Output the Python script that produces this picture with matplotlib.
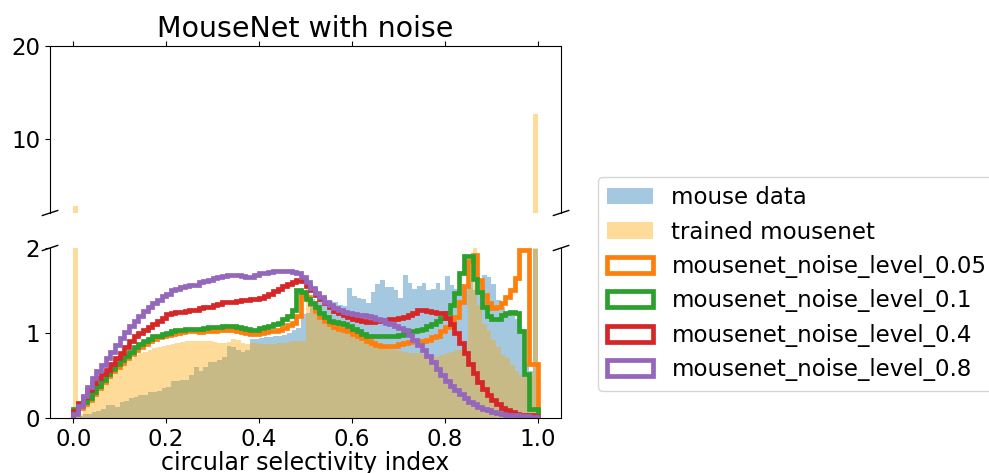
import numpy as np
import matplotlib
matplotlib.use('Agg')
import matplotlib.pyplot as plt

plt.rcParams['font.size'] = 16.5

# 100 bins over [0, 1], density values
edges = np.linspace(0, 1, 101)
centers = (edges[:-1] + edges[1:]) / 2

mouse_data = [
    0.02, 0.02, 0.05, 0.05, 0.07, 0.08, 0.11, 0.15, 0.15, 0.13,
    0.19, 0.20, 0.23, 0.25, 0.27, 0.27, 0.31, 0.31, 0.32, 0.35,
    0.37, 0.43, 0.43, 0.45, 0.45, 0.50, 0.60, 0.55, 0.60, 0.66,
    0.66, 0.68, 0.72, 0.85, 0.84, 0.80, 0.78, 0.80, 0.93, 0.93,
    0.94, 0.95, 0.95, 0.96, 0.96, 0.98, 1.00, 1.03, 1.06, 1.22,
    1.23, 1.40, 1.38, 1.37, 1.36, 1.38, 1.36, 1.33, 1.32, 1.53,
    1.43, 1.41, 1.40, 1.35, 1.48, 1.58, 1.62, 1.54, 1.54, 1.50,
    1.41, 1.68, 1.59, 1.52, 1.55, 1.59, 1.50, 1.52, 1.59, 1.51,
    1.67, 1.56, 1.52, 1.58, 1.55, 1.60, 1.50, 1.60, 1.68, 1.66,
    1.58, 1.39, 1.31, 1.22, 1.20, 1.17, 1.05, 0.64, 0.55, 1.99]

trained_mousenet = [
    2.70, 0.05, 0.17, 0.25, 0.33, 0.41, 0.47, 0.53, 0.56, 0.60,
    0.63, 0.68, 0.70, 0.74, 0.76, 0.78, 0.80, 0.82, 0.84, 0.85,
    0.86, 0.87, 0.88, 0.89, 0.90, 0.90, 0.90, 0.90, 0.91, 0.90,
    0.89, 0.88, 0.88, 0.89, 0.93, 0.92, 0.88, 0.87, 0.88, 0.88,
    0.87, 0.87, 0.87, 0.87, 0.88, 0.88, 0.89, 0.90, 0.90, 0.91,
    1.60, 1.29, 1.23, 1.19, 1.16, 1.12, 1.10, 1.08, 1.05, 1.03,
    1.00, 0.97, 0.93, 0.90, 0.88, 0.86, 0.84, 0.83, 0.81, 0.80,
    0.79, 0.78, 0.77, 0.76, 0.76, 0.75, 0.74, 0.73, 0.72, 0.74,
    0.76, 0.78, 0.80, 0.80, 0.82, 1.53, 2.05, 1.33, 1.11, 1.02,
    0.92, 0.84, 0.74, 0.70, 0.62, 0.55, 0.51, 0.50, 0.49, 12.65]

noise_005 = [
    0.07, 0.12, 0.17, 0.21, 0.28, 0.35, 0.42, 0.49, 0.55, 0.60,
    0.65, 0.70, 0.75, 0.80, 0.84, 0.87, 0.90, 0.93, 0.95, 0.97,
    0.98, 0.99, 1.00, 1.01, 1.02, 1.02, 1.02, 1.01, 1.02, 1.02,
    1.02, 1.03, 1.03, 1.03, 1.03, 1.02, 1.01, 1.00, 0.99, 0.99,
    1.00, 1.01, 1.02, 1.02, 1.04, 1.06, 1.09, 1.12, 1.20, 1.44,
    1.42, 1.34, 1.26, 1.19, 1.14, 1.10, 1.07, 1.05, 1.03, 1.02,
    0.99, 0.96, 0.94, 0.90, 0.88, 0.86, 0.85, 0.85, 0.85, 0.85,
    0.87, 0.88, 0.89, 0.90, 0.90, 0.91, 0.92, 0.95, 0.97, 1.02,
    1.07, 1.14, 1.19, 1.37, 1.55, 1.85, 1.92, 1.62, 1.45, 1.35,
    1.29, 1.31, 1.35, 1.42, 1.50, 1.65, 1.98, 1.98, 0.64, 0.64]

noise_01 = [
    0.10, 0.15, 0.19, 0.23, 0.31, 0.38, 0.45, 0.52, 0.58, 0.63,
    0.68, 0.73, 0.78, 0.83, 0.87, 0.90, 0.93, 0.96, 0.97, 0.99,
    1.00, 1.02, 1.03, 1.04, 1.05, 1.05, 1.05, 1.05, 1.06, 1.07,
    1.07, 1.07, 1.08, 1.08, 1.08, 1.07, 1.06, 1.05, 1.04, 1.04,
    1.06, 1.07, 1.08, 1.10, 1.12, 1.16, 1.20, 1.27, 1.51, 1.48,
    1.40, 1.35, 1.30, 1.24, 1.19, 1.14, 1.13, 1.12, 1.10, 1.08,
    1.05, 1.02, 0.99, 0.97, 0.96, 0.96, 0.96, 0.96, 0.97, 0.97,
    0.98, 0.99, 1.00, 1.02, 1.03, 1.05, 1.08, 1.11, 1.14, 1.18,
    1.24, 1.33, 1.47, 1.70, 1.90, 1.90, 1.64, 1.48, 1.30, 1.20,
    1.17, 1.17, 1.21, 1.24, 1.25, 1.24, 1.02, 0.52, 0.11, 0.11]

noise_04 = [
    0.08, 0.18, 0.25, 0.33, 0.41, 0.47, 0.52, 0.57, 0.63, 0.70,
    0.77, 0.84, 0.91, 0.96, 1.00, 1.04, 1.07, 1.10, 1.14, 1.18,
    1.22, 1.24, 1.25, 1.25, 1.26, 1.27, 1.27, 1.29, 1.30, 1.31,
    1.33, 1.34, 1.36, 1.37, 1.37, 1.38, 1.39, 1.39, 1.40, 1.40,
    1.41, 1.44, 1.46, 1.49, 1.52, 1.55, 1.58, 1.60, 1.62, 1.61,
    1.55, 1.50, 1.45, 1.40, 1.35, 1.30, 1.26, 1.24, 1.21, 1.19,
    1.17, 1.15, 1.14, 1.13, 1.13, 1.14, 1.15, 1.15, 1.16, 1.17,
    1.18, 1.19, 1.21, 1.24, 1.27, 1.27, 1.26, 1.25, 1.24, 1.23,
    1.18, 1.10, 1.00, 0.88, 0.76, 0.64, 0.53, 0.42, 0.34, 0.27,
    0.21, 0.16, 0.12, 0.09, 0.07, 0.05, 0.04, 0.035, 0.03, 0.02]

noise_08 = [
    0.05, 0.14, 0.26, 0.36, 0.47, 0.55, 0.62, 0.70, 0.78, 0.86,
    0.94, 1.01, 1.08, 1.14, 1.20, 1.26, 1.31, 1.35, 1.39, 1.43,
    1.46, 1.50, 1.52, 1.54, 1.55, 1.56, 1.57, 1.60, 1.61, 1.62,
    1.65, 1.66, 1.67, 1.68, 1.68, 1.68, 1.67, 1.66, 1.66, 1.68,
    1.70, 1.70, 1.72, 1.73, 1.73, 1.73, 1.73, 1.72, 1.70, 1.66,
    1.60, 1.53, 1.47, 1.42, 1.37, 1.33, 1.29, 1.27, 1.25, 1.23,
    1.22, 1.21, 1.21, 1.20, 1.19, 1.17, 1.15, 1.12, 1.10, 1.08,
    1.06, 1.03, 0.98, 0.92, 0.86, 0.80, 0.73, 0.66, 0.58, 0.51,
    0.44, 0.38, 0.33, 0.28, 0.23, 0.19, 0.16, 0.13, 0.11, 0.09,
    0.07, 0.06, 0.05, 0.04, 0.035, 0.03, 0.02, 0.02, 0.015, 0.01]

noise_series = [(noise_005, 'tab:orange', 'mousenet_noise_level_0.05'),
                (noise_01, 'tab:green', 'mousenet_noise_level_0.1'),
                (noise_04, 'tab:red', 'mousenet_noise_level_0.4'),
                (noise_08, 'tab:purple', 'mousenet_noise_level_0.8')]

fig = plt.figure(figsize=(9.89, 4.73), dpi=100)
ax_top = fig.add_axes([0.0506, 0.5497, 0.5167, 0.3540])
ax_bot = fig.add_axes([0.0506, 0.1163, 0.5167, 0.3594], sharex=ax_top)

# filled histograms go on both halves, the noisy step lines only stay below 2
for ax in (ax_top, ax_bot):
    ax.hist(centers, bins=edges, weights=mouse_data, color='tab:blue', alpha=0.4,
            label='mouse data')
    ax.hist(centers, bins=edges, weights=trained_mousenet, color='orange', alpha=0.4,
            label='trained mousenet')
for vals, col, lab in noise_series:
    ax_bot.hist(centers, bins=edges, weights=vals, histtype='step', color=col,
                linewidth=3.4, label=lab)

ax_top.set_ylim(2, 20)
ax_bot.set_ylim(0, 2)
ax_top.set_yticks([10, 20])
ax_bot.set_yticks([0, 1, 2])
ax_bot.set_xticks([0.0, 0.2, 0.4, 0.6, 0.8, 1.0])

# broken axis
ax_top.spines['bottom'].set_visible(False)
ax_bot.spines['top'].set_visible(False)
ax_top.xaxis.tick_top()
ax_top.tick_params(labeltop=False)
ax_bot.xaxis.tick_bottom()

d = .015
kw = dict(transform=ax_top.transAxes, color='k', clip_on=False, lw=1)
ax_top.plot((-d, +d), (-d, +d), **kw)
ax_top.plot((1 - d, 1 + d), (-d, +d), **kw)
kw.update(transform=ax_bot.transAxes)
ax_bot.plot((-d, +d), (1 - d, 1 + d), **kw)
ax_bot.plot((1 - d, 1 + d), (1 - d, 1 + d), **kw)

ax_top.set_title('MouseNet with noise', fontsize=20.5)
ax_bot.set_xlabel('circular selectivity index', fontsize=17, labelpad=0)

handles, labels = ax_bot.get_legend_handles_labels()
fig.legend(handles, labels, loc='upper left', bbox_to_anchor=(0.6047, 0.626),
           bbox_transform=fig.transFigure, borderaxespad=0, fontsize=16.5)

fig.savefig('out.png', dpi=100)
